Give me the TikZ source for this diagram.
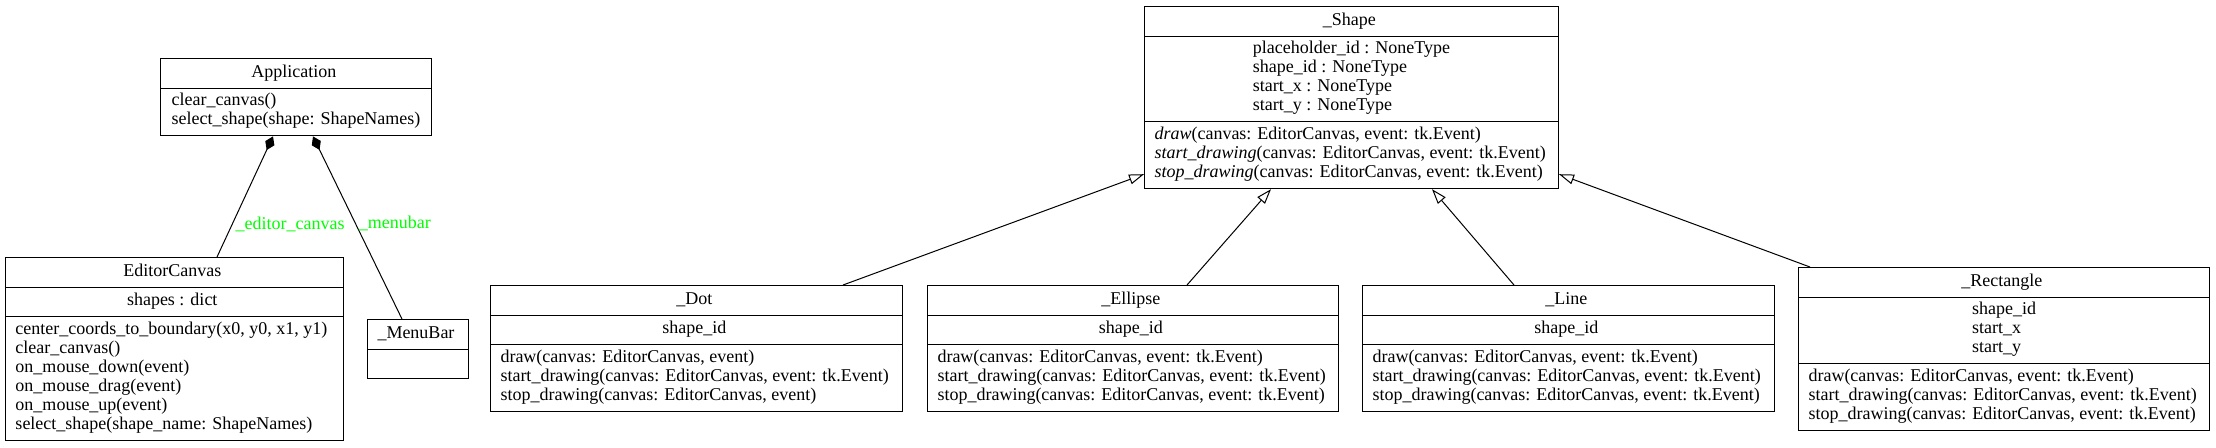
\documentclass[tikz,border=0pt]{standalone}
\usepackage{fontspec}
\setmainfont{Liberation Serif}
\usetikzlibrary{positioning, arrows.meta, shapes.multipart, calc}
\definecolor{rolegreen}{HTML}{00FF00}

\begin{document}
\begin{tikzpicture}[x=0.5pt, y=-0.5pt,
  umlclass/.style={draw, line width=0.5pt, rectangle split, rectangle split parts=3,
    rectangle split part align={center, center, left}, align=left, anchor=north west,
    font=\fontsize{9}{9.5}\selectfont, inner xsep=5pt, inner ysep=2.4pt,
    execute at begin node=\strut, execute at end node=\strut,
    rectangle split empty part height=6.65pt, rectangle split empty part depth=2.85pt},
  owns/.style={{Diamond[length=7.5pt, width=5pt]}-, line width=0.5pt},
  extends/.style={-{Triangle[open, length=7.5pt, width=5pt, fill=white]}, line width=0.5pt},
  role/.style={font=\fontsize{9}{9.5}\selectfont, text=rolegreen, anchor=west, inner sep=1.5pt}
]
\useasboundingbox (0,0) rectangle (2216,447);

\node[umlclass, rectangle split parts=2, minimum width=135.5pt] (app) at (160,58)
  {Application \nodepart{two} clear\_canvas()\\ select\_shape(shape: ShapeNames)};
\node[umlclass, minimum width=169pt] (canvas) at (5,257)
  {EditorCanvas \nodepart{two} shapes : dict
   \nodepart{three} center\_coords\_to\_boundary(x0, y0, x1, y1)\\ clear\_canvas()\\
   on\_mouse\_down(event)\\ on\_mouse\_drag(event)\\ on\_mouse\_up(event)\\
   select\_shape(shape\_name: ShapeNames)};
\node[umlclass, rectangle split parts=2, minimum width=49.5pt] (menubar) at (367,319)
  {\_MenuBar \nodepart{two} };

\node[umlclass, minimum width=207pt] (shape) at (1144,6)
  {\_Shape \nodepart{two} placeholder\_id : NoneType\\ shape\_id : NoneType\\
   start\_x : NoneType\\ start\_y : NoneType
   \nodepart{three} \textit{draw}(canvas: EditorCanvas, event: tk.Event)\\
   \textit{start\_drawing}(canvas: EditorCanvas, event: tk.Event)\\
   \textit{stop\_drawing}(canvas: EditorCanvas, event: tk.Event)};

\node[umlclass, minimum width=206pt] (dot) at (490,285)
  {\_Dot \nodepart{two} shape\_id
   \nodepart{three} draw(canvas: EditorCanvas, event)\\
   start\_drawing(canvas: EditorCanvas, event: tk.Event)\\
   stop\_drawing(canvas: EditorCanvas, event)};
\node[umlclass, minimum width=205.5pt] (ellipse) at (927,285)
  {\_Ellipse \nodepart{two} shape\_id
   \nodepart{three} draw(canvas: EditorCanvas, event: tk.Event)\\
   start\_drawing(canvas: EditorCanvas, event: tk.Event)\\
   stop\_drawing(canvas: EditorCanvas, event: tk.Event)};
\node[umlclass, minimum width=206pt] (line) at (1362,285)
  {\_Line \nodepart{two} shape\_id
   \nodepart{three} draw(canvas: EditorCanvas, event: tk.Event)\\
   start\_drawing(canvas: EditorCanvas, event: tk.Event)\\
   stop\_drawing(canvas: EditorCanvas, event: tk.Event)};
\node[umlclass, minimum width=205.5pt] (rect) at (1798,267)
  {\_Rectangle \nodepart{two} shape\_id\\ start\_x\\ start\_y
   \nodepart{three} draw(canvas: EditorCanvas, event: tk.Event)\\
   start\_drawing(canvas: EditorCanvas, event: tk.Event)\\
   stop\_drawing(canvas: EditorCanvas, event: tk.Event)};

% composition
\draw[owns] ([xshift=56.5pt]app.south west) -- ([xshift=106pt]canvas.north west)
  node[role, pos=0.73] {\_editor\_canvas};
\draw[owns] ([xshift=76.5pt]app.south west) -- ([xshift=17.5pt]menubar.north west)
  node[role, pos=0.475] {\_menubar};

% inheritance
\draw[extends] ([xshift=176.5pt]dot.north west) -- ([yshift=7.5pt]shape.south west);
\draw[extends] ([xshift=130pt]ellipse.north west) -- ([xshift=63.5pt]shape.south west);
\draw[extends] ([xshift=76pt]line.north west) -- ([xshift=144pt]shape.south west);
\draw[extends] ([xshift=6pt]rect.north west) -- ([yshift=7.5pt]shape.south east);
\end{tikzpicture}
\end{document}
